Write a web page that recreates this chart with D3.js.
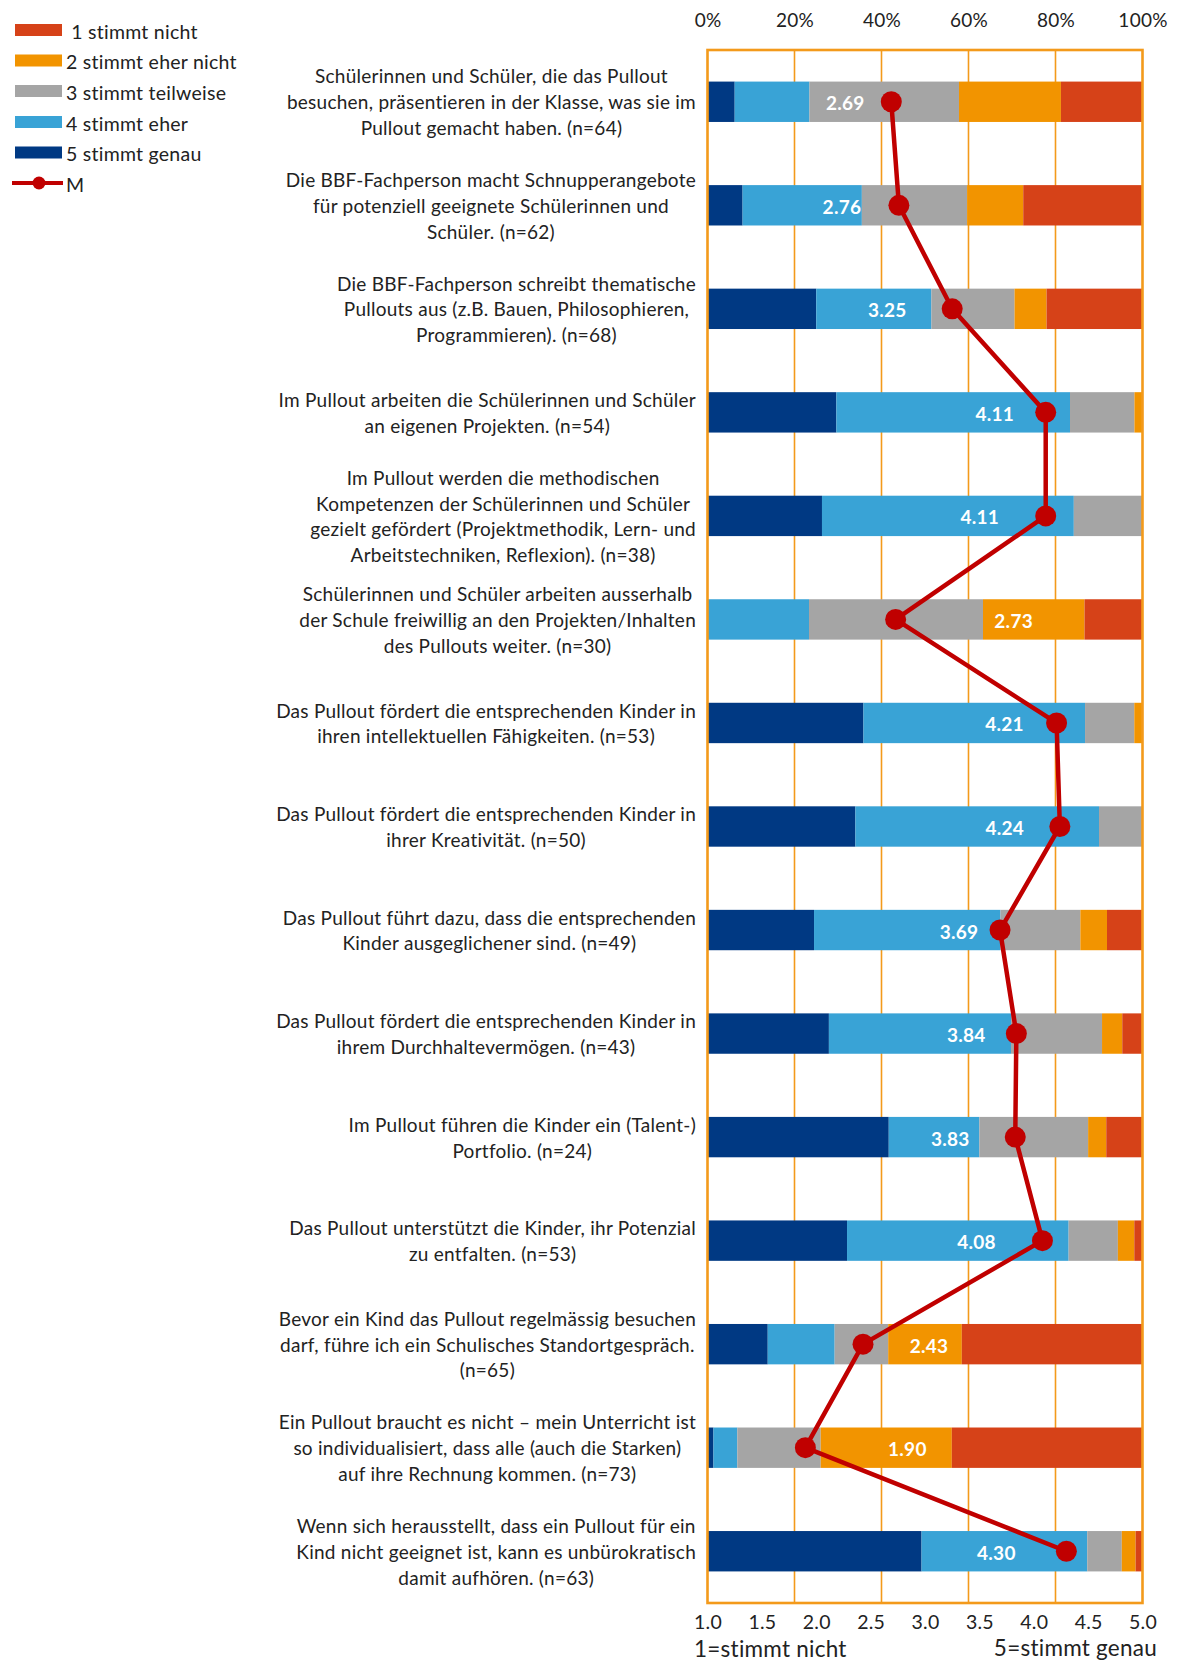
<!DOCTYPE html>
<html>
<head>
<meta charset="utf-8">
<script src="https://cdn.jsdelivr.net/npm/d3@7"></script>
<style>
    body { margin: 0; background: #fff; }
    svg text { font-family: Lato, "Open Sans", sans-serif; fill: #222; white-space: pre; letter-spacing: 0.25px; }
</style>
</head>
<body>
<div id="chart"></div>
<script>
// DATA //
// statement texts, line breaks as in the original
const statements = [
    ["Schülerinnen und Schüler, die das Pullout", "besuchen, präsentieren in der Klasse, was sie im", "Pullout gemacht haben. (n=64)"],
    ["Die BBF-Fachperson macht Schnupperangebote", "für potenziell geeignete Schülerinnen und", "Schüler. (n=62)"],
    ["Die BBF-Fachperson schreibt thematische", "Pullouts aus (z.B. Bauen, Philosophieren,", "Programmieren). (n=68)"],
    ["Im Pullout arbeiten die Schülerinnen und Schüler", "an eigenen Projekten. (n=54)"],
    ["Im Pullout werden die methodischen", "Kompetenzen der Schülerinnen und Schüler", "gezielt gefördert (Projektmethodik, Lern- und", "Arbeitstechniken, Reflexion). (n=38)"],
    ["Schülerinnen und Schüler arbeiten ausserhalb", "der Schule freiwillig an den Projekten/Inhalten", "des Pullouts weiter. (n=30)"],
    ["Das Pullout fördert die entsprechenden Kinder in", "ihren intellektuellen Fähigkeiten. (n=53)"],
    ["Das Pullout fördert die entsprechenden Kinder in", "ihrer Kreativität. (n=50)"],
    ["Das Pullout führt dazu, dass die entsprechenden", "Kinder ausgeglichener sind. (n=49)"],
    ["Das Pullout fördert die entsprechenden Kinder in", "ihrem Durchhaltevermögen. (n=43)"],
    ["Im Pullout führen die Kinder ein (Talent-)", "Portfolio. (n=24)"],
    ["Das Pullout unterstützt die Kinder, ihr Potenzial", "zu entfalten. (n=53)"],
    ["Bevor ein Kind das Pullout regelmässig besuchen", "darf, führe ich ein Schulisches Standortgespräch.", "(n=65)"],
    ["Ein Pullout braucht es nicht – mein Unterricht ist", "so individualisiert, dass alle (auch die Starken)", "auf ihre Rechnung kommen. (n=73)"],
    ["Wenn sich herausstellt, dass ein Pullout für ein", "Kind nicht geeignet ist, kann es unbürokratisch", "damit aufhören. (n=63)"],
]

// answer counts per statement (n from the labels)
const stimmtGenau      = [4, 5, 17, 16, 10, 0, 19, 17, 12, 12, 10, 17, 9, 1, 31]
const stimmtEher       = [11, 17, 18, 29, 22, 7, 27, 28, 21, 18, 5, 27, 10, 4, 24]
const stimmtTeilweise  = [22, 15, 13, 8, 6, 12, 6, 5, 9, 9, 6, 6, 8, 14, 5]
const stimmtEherNicht  = [15, 8, 5, 1, 0, 7, 1, 0, 3, 2, 1, 2, 11, 22, 2]
const stimmtNicht      = [12, 17, 15, 0, 0, 4, 0, 0, 4, 2, 2, 1, 27, 32, 1]

// mean per statement (1 = stimmt nicht ... 5 = stimmt genau)
const means = [2.69, 2.76, 3.25, 4.11, 4.11, 2.73, 4.21, 4.24, 3.69, 3.84, 3.83, 4.08, 2.43, 1.90, 4.30]

const legendLabels = [" 1 stimmt nicht", "2 stimmt eher nicht", "3 stimmt teilweise", "4 stimmt eher", "5 stimmt genau", "M"]
const pctTicks = [0, 0.2, 0.4, 0.6, 0.8, 1]
const meanTicks = [1, 1.5, 2, 2.5, 3, 3.5, 4, 4.5, 5]

// LAYOUT //
const width = 1178
const height = 1661
const plot = { left: 707.5, right: 1142.5, top: 50, bottom: 1603 }
const labelRight = 696
// horizontal nudge (px) of each mean label relative to its marker, as placed in the original
const labelNudge = [-46, -57, -65, -51, -66, 118, -52, -55, -41, -50, -65, -66, 66, 102, -70]

const colors = {
    "5": "#003983",
    "4": "#39A3D6",
    "3": "#A5A5A5",
    "2": "#F29400",
    "1": "#D64218",
}
const frameColor = "#F39A1B"
const meanColor = "#C00000"

// build table for the stack
const keys = ["5", "4", "3", "2", "1"]
const rows = statements.map((s, i) => {
    const n = stimmtGenau[i] + stimmtEher[i] + stimmtTeilweise[i] + stimmtEherNicht[i] + stimmtNicht[i]
    return {
        idx: i,
        "5": stimmtGenau[i] / n,
        "4": stimmtEher[i] / n,
        "3": stimmtTeilweise[i] / n,
        "2": stimmtEherNicht[i] / n,
        "1": stimmtNicht[i] / n,
        mean: means[i],
    }
})

const series = d3.stack().keys(keys)(rows)

// SCALES //
const xScale = d3.scaleLinear()
    .domain([0, 1])
    .range([plot.left, plot.right])

const meanScale = d3.scaleLinear()
    .domain([1, 5])
    .range([plot.left, plot.right])

const yScale = d3.scaleBand()
    .domain(rows.map(d => d.idx))
    .range([plot.top, plot.bottom])
    .paddingInner(0.61)
    .paddingOuter(0.305)

const yCenter = i => yScale(i) + yScale.bandwidth() / 2

// DRAW //
const svg = d3.select("#chart")
    .append("svg")
    .attr("width", width)
    .attr("height", height)

// gridlines
svg.append("g")
    .selectAll("line")
    .data([0.2, 0.4, 0.6, 0.8])
    .join("line")
    .attr("x1", d => xScale(d))
    .attr("x2", d => xScale(d))
    .attr("y1", plot.top)
    .attr("y2", plot.bottom)
    .attr("stroke", frameColor)
    .attr("stroke-width", 1.6)

// stacked bars
svg.append("g")
    .selectAll("g")
    .data(series)
    .join("g")
    .attr("fill", d => colors[d.key])
    .selectAll("rect")
    .data(d => d)
    .join("rect")
    .attr("x", d => xScale(d[0]))
    .attr("y", d => yScale(d.data.idx))
    .attr("width", d => Math.max(0, xScale(d[1]) - xScale(d[0])))
    .attr("height", yScale.bandwidth())

// frame
svg.append("rect")
    .attr("x", plot.left)
    .attr("y", plot.top)
    .attr("width", plot.right - plot.left)
    .attr("height", plot.bottom - plot.top)
    .attr("fill", "none")
    .attr("stroke", frameColor)
    .attr("stroke-width", 2.6)

// mean labels (white, inside the bars)
svg.append("g")
    .selectAll("text")
    .data(rows)
    .join("text")
    .attr("x", d => meanScale(d.mean) + labelNudge[d.idx])
    .attr("y", d => yCenter(d.idx) + 1)
    .attr("text-anchor", "middle")
    .attr("dominant-baseline", "central")
    .style("fill", "#fff")
    .style("font-weight", "bold")
    .style("font-size", "19px")
    .text(d => d.mean.toFixed(2))

// mean line + markers
const meanLine = d3.line()
    .x(d => meanScale(d.mean))
    .y(d => yCenter(d.idx))

svg.append("path")
    .datum(rows)
    .attr("d", meanLine)
    .attr("fill", "none")
    .attr("stroke", meanColor)
    .attr("stroke-width", 4.5)
    .attr("stroke-linejoin", "round")

svg.append("g")
    .selectAll("circle")
    .data(rows)
    .join("circle")
    .attr("cx", d => meanScale(d.mean))
    .attr("cy", d => yCenter(d.idx))
    .attr("r", 10.5)
    .attr("fill", meanColor)

// top axis (percent)
const topAxis = svg.append("g")
    .attr("transform", `translate(0, 27)`)
    .call(d3.axisTop(xScale).tickValues(pctTicks).tickFormat(d3.format(".0%")).tickSize(0))
topAxis.select(".domain").remove()
topAxis.selectAll("text")
    .attr("y", 0)
    .attr("dy", 0)
    .style("font-size", "19px")
    .style("font-family", "Lato, sans-serif")
    .style("fill", "#222")

// bottom axis (means)
const bottomAxis = svg.append("g")
    .attr("transform", `translate(0, ${plot.bottom + 26})`)
    .call(d3.axisBottom(meanScale).tickValues(meanTicks).tickFormat(d3.format(".1f")).tickSize(0))
bottomAxis.select(".domain").remove()
bottomAxis.selectAll("text")
    .attr("y", 0)
    .attr("dy", 0)
    .style("font-size", "19.5px")
    .style("font-family", "Lato, sans-serif")
    .style("fill", "#222")

svg.append("text")
    .attr("x", 694)
    .attr("y", 1657)
    .style("font-size", "22.5px")
    .text("1=stimmt nicht")

svg.append("text")
    .attr("x", 1157)
    .attr("y", 1656)
    .attr("text-anchor", "end")
    .style("font-size", "22.5px")
    .text("5=stimmt genau")

// statement labels: each block centered on itself, block right-aligned at labelRight
const lineHeight = 25.8
const labelGroups = svg.append("g")
    .selectAll("g")
    .data(statements)
    .join("g")

labelGroups.each(function(lines, i) {
    const g = d3.select(this)
    const top = yCenter(i) - (lines.length - 1) * lineHeight / 2
    const texts = g.selectAll("text")
        .data(lines)
        .join("text")
        .attr("y", (d, j) => top + j * lineHeight)
        .attr("dominant-baseline", "central")
        .attr("text-anchor", "middle")
        .style("font-size", "19px")
        .text(d => d)
    const maxW = d3.max(texts.nodes(), n => n.getComputedTextLength())
    texts.attr("x", labelRight - maxW / 2)
})

// legend
const legendY = [30, 60.5, 91, 122, 152.5, 183]
const legendKeys = ["1", "2", "3", "4", "5"]
const legend = svg.append("g")

legend.selectAll("rect")
    .data(legendKeys)
    .join("rect")
    .attr("x", 15)
    .attr("y", (d, i) => legendY[i] - 6)
    .attr("width", 47)
    .attr("height", 12)
    .attr("fill", d => colors[d])

legend.append("line")
    .attr("x1", 12)
    .attr("x2", 63)
    .attr("y1", legendY[5])
    .attr("y2", legendY[5])
    .attr("stroke", meanColor)
    .attr("stroke-width", 4)

legend.append("circle")
    .attr("cx", 39)
    .attr("cy", legendY[5])
    .attr("r", 6.5)
    .attr("fill", meanColor)

legend.selectAll("text")
    .data(legendLabels)
    .join("text")
    .attr("x", 66)
    .attr("y", (d, i) => legendY[i] + 1)
    .attr("dominant-baseline", "central")
    .style("font-size", "19.5px")
    .text(d => d)
</script>
</body>
</html>
